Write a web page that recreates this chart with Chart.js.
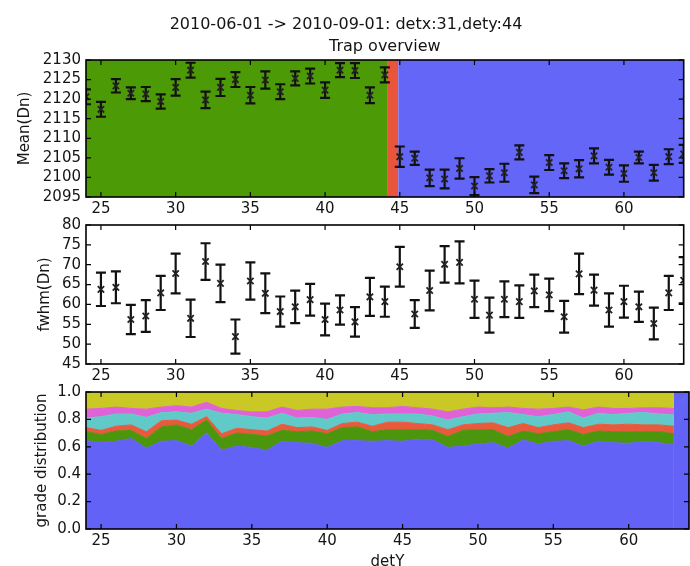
<!DOCTYPE html>
<html>
<head>
<meta charset="utf-8">
<script src="https://cdn.jsdelivr.net/npm/chart.js@4.4.1/dist/chart.umd.min.js"></script>
<style>
  html, body { margin: 0; padding: 0; background: #fff; width: 690px; height: 566px; overflow: hidden; }
  canvas { position: absolute; left: 0; }
</style>
</head>
<body>
<canvas id="meanChart" width="690" height="216" style="top:0px"></canvas>
<canvas id="fwhmChart" width="690" height="196" style="top:190px"></canvas>
<canvas id="gradeChart" width="690" height="211" style="top:360px"></canvas>
<script>
// ---- data -------------------------------------------------------------
const titleLines = ['2010-06-01 -> 2010-09-01: detx:31,dety:44', 'Trap overview'];

const detY = [24, 25, 26, 27, 28, 29, 30, 31, 32, 33, 34, 35, 36, 37, 38, 39, 40, 41, 42, 43, 44,
              45, 46, 47, 48, 49, 50, 51, 52, 53, 54, 55, 56, 57, 58, 59, 60, 61, 62, 63, 64];

const meanDn = [2120.6, 2117.4, 2123.4, 2121.5, 2121.3, 2119.4, 2123.0, 2127.4, 2119.8, 2123.0, 2125.0,
                2121.0, 2124.9, 2121.9, 2125.3, 2125.9, 2122.3, 2127.4, 2127.3, 2121.0, 2126.2,
                2105.3, 2104.9, 2099.9, 2099.6, 2102.3, 2097.8, 2100.4, 2101.2, 2106.4, 2098.1,
                2103.8, 2101.7, 2102.2, 2105.5, 2102.6, 2101.0, 2105.1, 2101.2, 2105.3, 2106.0];
const meanErr = [1.9, 1.9, 1.7, 1.5, 1.8, 1.8, 2.1, 1.9, 2.1, 2.2, 1.9, 2.1, 2.2, 1.9, 1.8, 1.9, 2.0, 1.8, 1.9, 2.0, 1.9,
                 2.6, 1.7, 2.1, 2.4, 2.6, 2.3, 1.7, 2.3, 1.8, 2.1, 1.9, 1.9, 2.2, 1.9, 1.9, 2.1, 1.5, 2.0, 1.9, 2.3];

const fwhmDn = [null, 63.8, 64.3, 56.2, 57.1, 62.9, 67.8, 56.5, 70.8, 65.3, 51.9, 65.9, 62.8, 58.2, 59.4,
                61.2, 56.2, 58.6, 55.6, 61.9, 60.7,
                69.5, 57.6, 63.5, 70.1, 70.6, 61.3, 57.3, 61.3, 60.7, 63.4, 62.4, 56.9, 67.7, 63.6,
                58.6, 60.7, 59.4, 55.2, 62.9, 66.1];
const fwhmErr = [null, 4.2, 4.0, 3.7, 4.0, 4.3, 5.0, 4.7, 4.6, 4.7, 4.3, 4.7, 5.0, 3.8, 4.1, 4.0, 4.0, 3.7, 3.7, 4.8, 3.8,
                 5.0, 3.5, 5.0, 4.6, 5.3, 4.7, 4.4, 4.5, 4.1, 4.1, 4.1, 4.0, 5.1, 3.9, 4.2, 4.0, 3.8, 4.0, 4.3, 5.8];

// grade fractions per detY (grades 0..5, stacked bottom to top)
const grade0 = [.645, .63, .64, .66, .59, .64, .645, .605, .70, .575, .605, .595, .575, .64, .63, .625, .595, .645,
                .645, .64, .645, .64, .655, .65, .595, .605, .62, .63, .59, .65, .62, .64, .645, .605, .64, .63, .625, .64, .63, .615, 1];
const grade1 = [.065, .06, .075, .06, .07, .105, .115, .12, .095, .085, .095, .095, .105, .08, .08, .09, .10, .095,
                .10, .07, .08, .085, .07, .07, .08, .115, .105, .095, .085, .065, .075, .07, .08, .085, .075, .08, .085, .07, .08, .08, 0];
const grade2 = [.03, .03, .035, .04, .05, .045, .035, .04, .025, .035, .035, .035, .035, .045, .03, .03, .025, .03,
                .035, .04, .055, .055, .045, .04, .05, .04, .045, .05, .065, .055, .045, .05, .05, .05, .05, .05, .055, .05, .05, .055, 0];
const grade3 = [.07, .10, .09, .08, .105, .06, .06, .08, .055, .15, .10, .095, .095, .08, .07, .07, .08, .07,
                .07, .085, .06, .06, .07, .065, .07, .06, .07, .07, .11, .065, .08, .075, .08, .07, .08, .075, .08, .09, .08, .085, 0];
const grade4 = [.065, .06, .05, .04, .06, .04, .045, .045, .05, .035, .03, .035, .045, .045, .055, .06, .075, .05,
                .045, .05, .045, .055, .045, .05, .06, .055, .05, .04, .04, .045, .055, .045, .035, .06, .045, .045, .035, .035, .045, .045, 0];
const grade5 = [.125, .12, .11, .12, .125, .11, .10, .11, .075, .12, .135, .145, .145, .11, .135, .125, .125, .11,
                .105, .115, .115, .105, .115, .125, .145, .125, .11, .115, .11, .12, .125, .12, .11, .13, .11, .12, .12, .115, .115, .12, 0];

// trap regime ranges along detY (shaded behind the mean values)
const regimeEdges = [24, 44.2, 44.9, 64];

const xTickValues = [25, 30, 35, 40, 45, 50, 55, 60];
const meanTicks = [2095, 2100, 2105, 2110, 2115, 2120, 2125, 2130];
const fwhmTicks = [45, 50, 55, 60, 65, 70, 75, 80];
const gradeTicks = [0, 0.2, 0.4, 0.6, 0.8, 1.0];

// ---- styles -----------------------------------------------------------
const FONT = 'DejaVu Sans';
const TEXT = '#151515';
const regimeColors = ['#4d9a07', '#e8553b', '#6466f8'];
const gradeColors = ['#6262f6', '#4b960c', '#e85a3c', '#62c9c9', '#df62d6', '#c9c824'];

// ---- plugins ----------------------------------------------------------
const regimePlugin = {
  id: 'regimes',
  beforeDatasetsDraw(chart) {
    const { ctx, chartArea: a, scales: { x } } = chart;
    ctx.save();
    regimeColors.forEach((c, i) => {
      const x0 = x.getPixelForValue(regimeEdges[i]);
      const x1 = x.getPixelForValue(regimeEdges[i + 1]);
      ctx.fillStyle = c;
      ctx.fillRect(x0, a.top, x1 - x0, a.bottom - a.top);
    });
    ctx.restore();
  }
};

const errorBarPlugin = {
  id: 'errorBars',
  beforeDatasetsDraw(chart) {
    const { ctx, chartArea: a, scales: { x, y } } = chart;
    ctx.save();
    ctx.beginPath();
    ctx.rect(a.left, a.top, a.right - a.left, a.bottom - a.top);
    ctx.clip();
    ctx.strokeStyle = '#111';
    ctx.lineWidth = 2.2;
    chart.data.datasets.forEach(ds => {
      if (!ds.errorBars) return;
      ds.data.forEach((p, i) => {
        const e = ds.errorBars[i];
        if (p.y == null || e == null) return;
        const px = x.getPixelForValue(p.x);
        const yHi = y.getPixelForValue(p.y + e);
        const yLo = y.getPixelForValue(p.y - e);
        ctx.beginPath();
        ctx.moveTo(px, yHi); ctx.lineTo(px, yLo);
        ctx.moveTo(px - 5, yHi); ctx.lineTo(px + 5, yHi);
        ctx.moveTo(px - 5, yLo); ctx.lineTo(px + 5, yLo);
        ctx.stroke();
      });
    });
    ctx.restore();
  }
};

// axes frame with inward ticks on all four sides
const framePlugin = {
  id: 'frame',
  afterDatasetsDraw(chart) {
    const { ctx, chartArea: a, scales: { x, y } } = chart;
    ctx.save();
    ctx.strokeStyle = '#000';
    ctx.lineWidth = 1.2;
    ctx.beginPath();
    x.ticks.forEach(t => {
      const px = x.getPixelForValue(t.value);
      ctx.moveTo(px, a.bottom); ctx.lineTo(px, a.bottom - 5);
      ctx.moveTo(px, a.top); ctx.lineTo(px, a.top + 5);
    });
    y.ticks.forEach(t => {
      const py = y.getPixelForValue(t.value);
      ctx.moveTo(a.left, py); ctx.lineTo(a.left + 5, py);
      ctx.moveTo(a.right, py); ctx.lineTo(a.right - 5, py);
    });
    ctx.stroke();
    ctx.lineWidth = 1.6;
    ctx.strokeRect(a.left, a.top, a.right - a.left, a.bottom - a.top);
    ctx.restore();
  }
};

const titlePlugin = {
  id: 'titles',
  afterDraw(chart) {
    const { ctx, chartArea: a } = chart;
    ctx.save();
    ctx.fillStyle = TEXT;
    ctx.font = '16px "' + FONT + '"';
    ctx.textAlign = 'center';
    ctx.textBaseline = 'alphabetic';
    ctx.fillText(titleLines[0], 346, 29);
    ctx.fillText(titleLines[1], (a.left + a.right) / 2, 51);
    ctx.restore();
  }
};

// ---- shared options ---------------------------------------------------
function baseOptions(o) {
  const font = { family: FONT, size: 15 };
  return {
    responsive: false,
    animation: false,
    devicePixelRatio: 1,
    events: [],
    layout: { padding: { top: o.top, right: 1, left: 0, bottom: 0 } },
    plugins: { legend: { display: false }, tooltip: { enabled: false } },
    scales: {
      x: {
        type: 'linear', min: 24, max: 64,
        grid: { display: false, drawTicks: false },
        border: { display: false },
        afterBuildTicks: s => { s.ticks = xTickValues.map(v => ({ value: v })); },
        afterFit: s => { s.height = o.xHeight; },
        ticks: { padding: 3, font, color: TEXT, autoSkip: false, maxRotation: 0, callback: v => String(v) },
        title: o.xTitle
          ? { display: true, text: o.xTitle, font, color: TEXT, padding: { top: 0, bottom: 0 } }
          : { display: false }
      },
      y: {
        type: 'linear', min: o.yTicks[0], max: o.yTicks[o.yTicks.length - 1],
        stacked: !!o.stacked,
        grid: { display: false, drawTicks: false },
        border: { display: false },
        afterBuildTicks: s => { s.ticks = o.yTicks.map(v => ({ value: v })); },
        afterFit: s => { s.width = 86; },
        ticks: { padding: 5, font, color: TEXT, autoSkip: false, callback: o.yFormat },
        title: { display: true, text: o.yTitle, font, color: TEXT, padding: { top: o.yTitlePad, bottom: 0 } }
      }
    }
  };
}

const points = vals => detY.map((d, i) => ({ x: d, y: vals[i] }));

const markerStyle = {
  showLine: false,
  pointStyle: 'crossRot',
  pointRadius: 4.5,
  pointBorderWidth: 1.8,
  pointBorderColor: '#222',
  pointBackgroundColor: '#222'
};

// ---- mean panel -------------------------------------------------------
new Chart(document.getElementById('meanChart'), {
  type: 'scatter',
  data: { datasets: [Object.assign({ data: points(meanDn), errorBars: meanErr }, markerStyle)] },
  options: baseOptions({ top: 60, xHeight: 19, yTicks: meanTicks, yTitle: 'Mean(Dn)', yTitlePad: 16,
                         yFormat: v => String(v) }),
  plugins: [regimePlugin, errorBarPlugin, framePlugin, titlePlugin]
});

// ---- fwhm panel -------------------------------------------------------
new Chart(document.getElementById('fwhmChart'), {
  type: 'scatter',
  data: { datasets: [Object.assign({ data: points(fwhmDn), errorBars: fwhmErr }, markerStyle)] },
  options: baseOptions({ top: 35, xHeight: 22, yTicks: fwhmTicks, yTitle: 'fwhm(Dn)', yTitlePad: 36,
                         yFormat: v => String(v) }),
  plugins: [errorBarPlugin, framePlugin]
});

// ---- grade distribution panel -----------------------------------------
const grades = [grade0, grade1, grade2, grade3, grade4, grade5];
// a column holding only grade 0 is painted entirely in the grade-0 colour
const deadSegment = c => (grade0[c.p1DataIndex] >= 1 ? gradeColors[0] : undefined);

new Chart(document.getElementById('gradeChart'), {
  type: 'line',
  data: {
    datasets: grades.map((g, i) => ({
      data: points(g),
      fill: i === 0 ? 'origin' : '-1',
      backgroundColor: gradeColors[i],
      borderColor: gradeColors[i],
      borderWidth: 1,
      pointRadius: 0,
      tension: 0,
      segment: { backgroundColor: deadSegment, borderColor: deadSegment }
    }))
  },
  options: baseOptions({ top: 32, xHeight: 42, yTicks: gradeTicks, yTitle: 'grade distribution', yTitlePad: 33,
                         stacked: true, xTitle: 'detY', yFormat: v => v.toFixed(1) }),
  plugins: [framePlugin]
});
</script>
</body>
</html>
